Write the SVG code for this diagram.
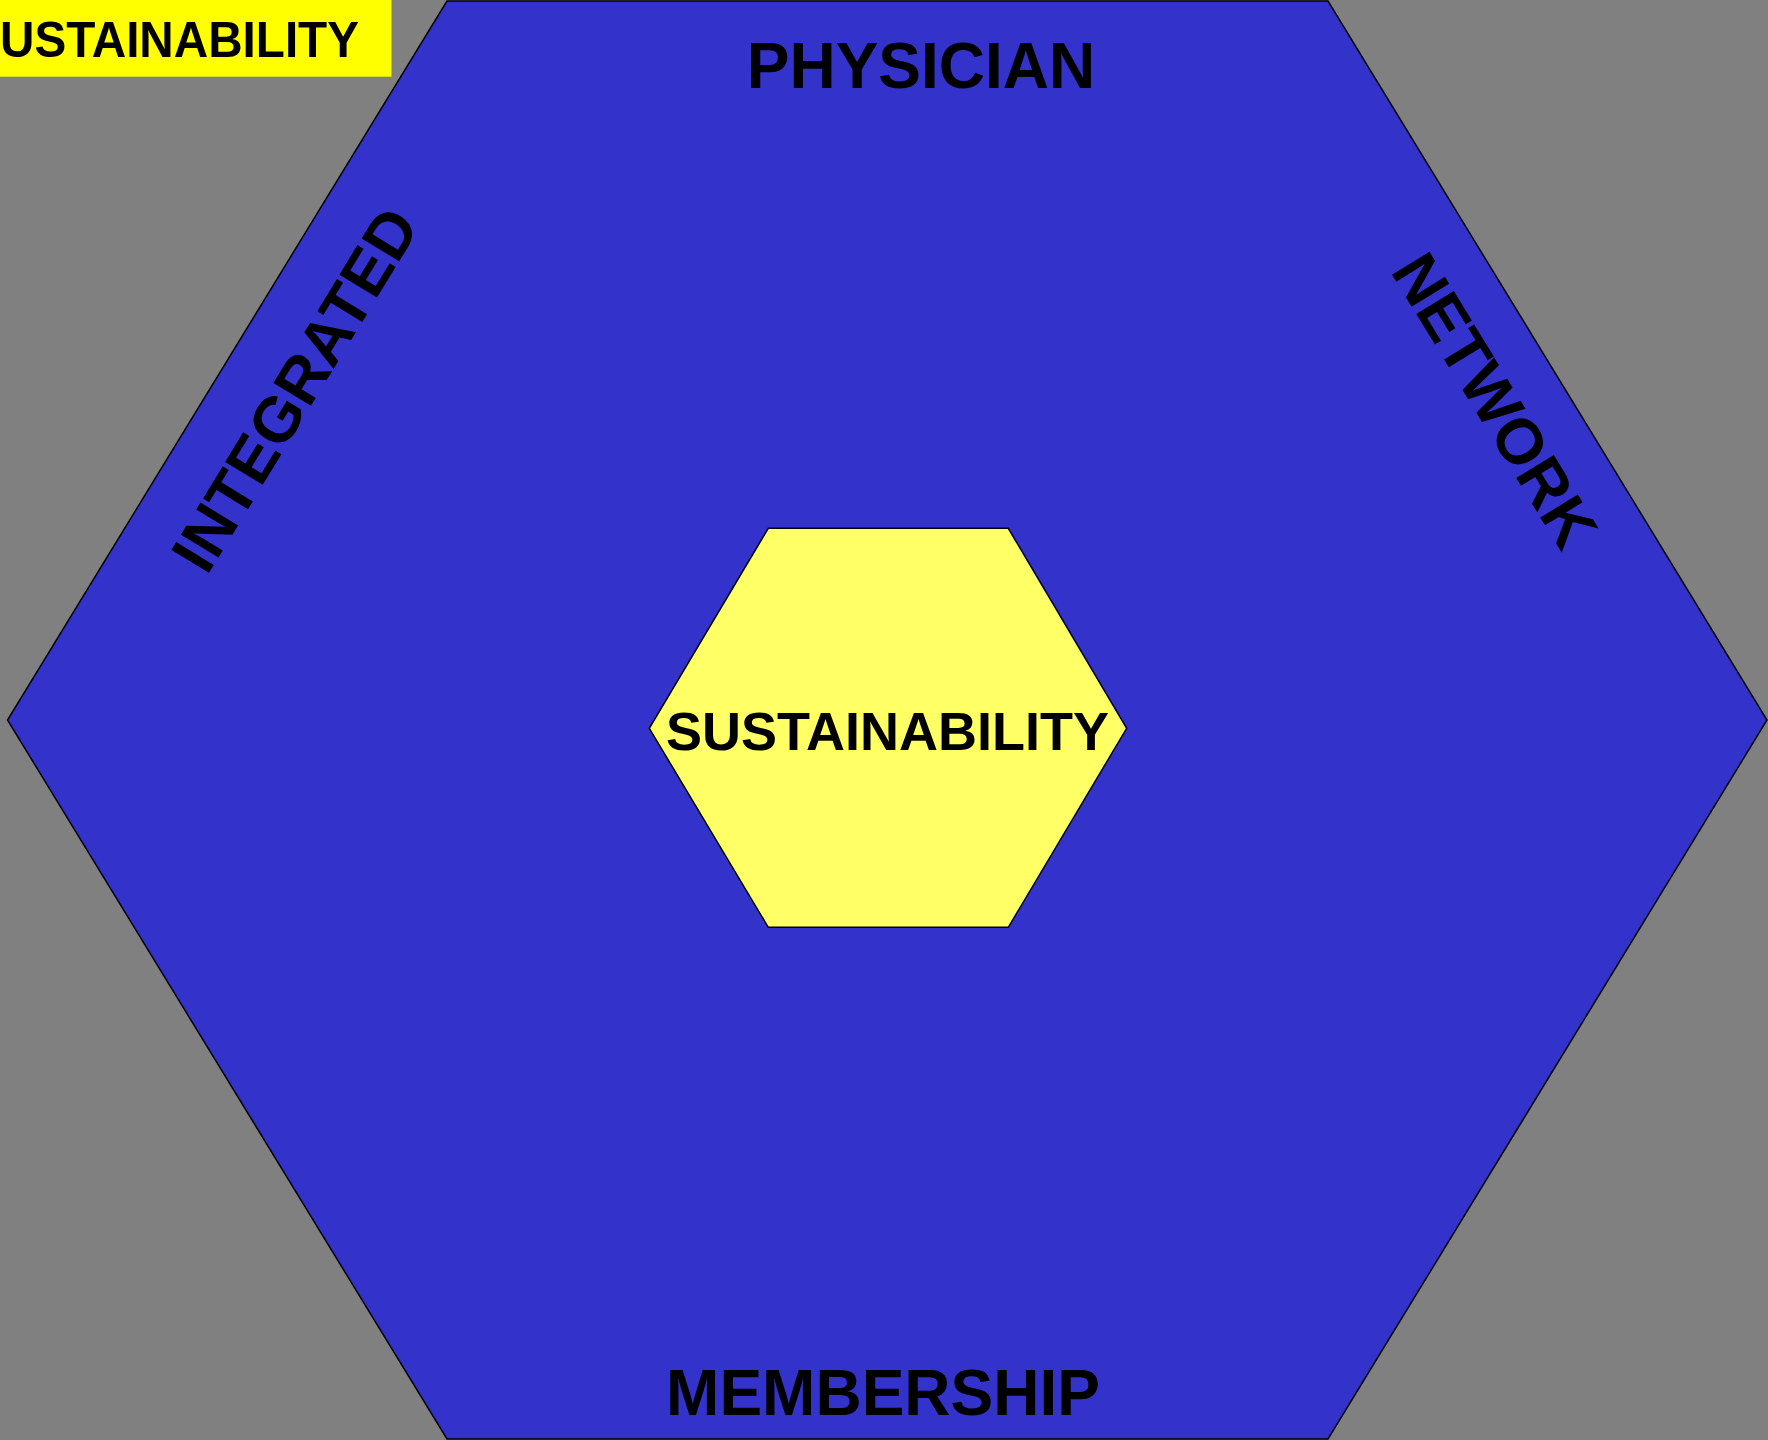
<svg xmlns="http://www.w3.org/2000/svg" width="1768" height="1440" viewBox="0 0 1768 1440">
<style>
.lbl{font-family:"Liberation Sans",Arial,sans-serif;font-weight:bold;fill:#000;}
.big{font-size:64px;text-anchor:middle;}
</style>
<rect x="0" y="0" width="1768" height="1440" fill="#808080"/>
<g id="outer-hexagon">
<polygon points="447,1 1328,1 1767,720 1328,1439 447,1439 7.5,720" fill="#3333CC" stroke="#000" stroke-width="1.5"/>
<text class="lbl big" x="921" y="88">PHYSICIAN</text>
<text class="lbl big" x="883" y="1415">MEMBERSHIP</text>
<text class="lbl big" transform="translate(314,401) rotate(-58.6)" x="0" y="0">INTEGRATED</text>
<text class="lbl big" transform="translate(1476,412) rotate(58.6)" x="0" y="0">NETWORK</text>
</g>
<g id="inner-hexagon">
<polygon points="768.3,528.3 1008.3,528.3 1126.7,728.3 1008.3,927.3 768.3,927.3 649.3,728.3" fill="#FFFF66" stroke="#000" stroke-width="1.5"/>
<text class="lbl" x="887.5" y="750" font-size="54" text-anchor="middle">SUSTAINABILITY</text>
</g>
<g id="title-box">
<rect x="0" y="0" width="391.5" height="76.7" fill="#FFFF00"/>
<text class="lbl" x="0" y="56.7" font-size="50" textLength="359" lengthAdjust="spacingAndGlyphs">USTAINABILITY</text>
</g>
<g id="connectors"/>
</svg>
